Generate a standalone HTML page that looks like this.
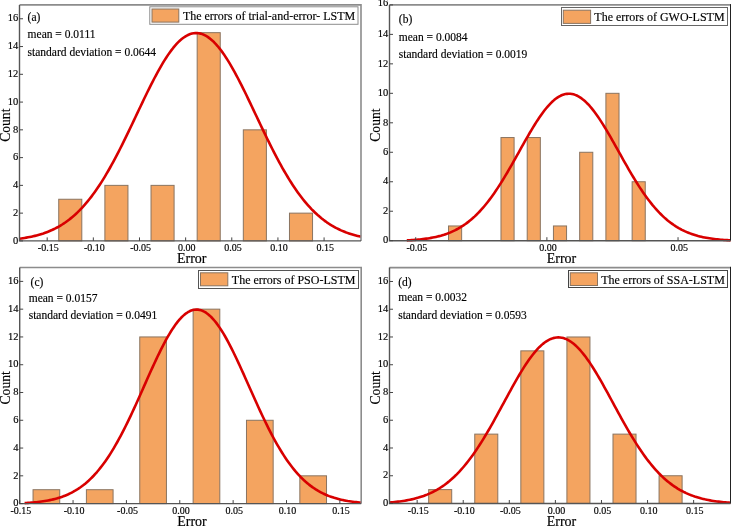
<!DOCTYPE html>
<html><head><meta charset="utf-8"><style>
html,body{margin:0;padding:0;background:#fff;width:731px;height:526px;overflow:hidden}
svg{display:block;will-change:transform}
text{font-family:"Liberation Serif",serif;fill:#000;stroke:#000;stroke-width:0.15px}
</style></head><body>
<svg width="731" height="526" viewBox="0 0 731 526">
<rect width="731" height="526" fill="#fff"/>
<g id="pa"><rect x="58.73" y="199.25" width="23.07" height="41.65" fill="#F4A460" stroke="#8a7460" stroke-width="1"/>
<rect x="104.88" y="185.37" width="23.07" height="55.53" fill="#F4A460" stroke="#8a7460" stroke-width="1"/>
<rect x="151.02" y="185.37" width="23.07" height="55.53" fill="#F4A460" stroke="#8a7460" stroke-width="1"/>
<rect x="197.17" y="32.66" width="23.07" height="208.24" fill="#F4A460" stroke="#8a7460" stroke-width="1"/>
<rect x="243.32" y="129.84" width="23.07" height="111.06" fill="#F4A460" stroke="#8a7460" stroke-width="1"/>
<rect x="289.47" y="213.14" width="23.07" height="27.76" fill="#F4A460" stroke="#8a7460" stroke-width="1"/>
<polyline points="19.5,238.68 21.21,238.45 22.92,238.2 24.62,237.94 26.33,237.65 28.04,237.34 29.74,237.01 31.45,236.66 33.16,236.28 34.87,235.87 36.58,235.44 38.28,234.98 39.99,234.48 41.7,233.96 43.41,233.4 45.11,232.8 46.82,232.17 48.53,231.5 50.23,230.78 51.94,230.03 53.65,229.22 55.36,228.38 57.07,227.48 58.77,226.54 60.48,225.54 62.19,224.49 63.9,223.38 65.6,222.22 67.31,220.99 69.02,219.71 70.72,218.36 72.43,216.95 74.14,215.48 75.85,213.94 77.55,212.33 79.26,210.65 80.97,208.89 82.68,207.07 84.39,205.17 86.09,203.2 87.8,201.16 89.51,199.04 91.22,196.84 92.92,194.57 94.63,192.22 96.34,189.8 98.04,187.3 99.75,184.73 101.46,182.08 103.17,179.35 104.88,176.56 106.58,173.7 108.29,170.76 110,167.76 111.71,164.7 113.41,161.57 115.12,158.38 116.83,155.13 118.54,151.83 120.24,148.48 121.95,145.09 123.66,141.65 125.37,138.17 127.07,134.66 128.78,131.12 130.49,127.55 132.19,123.96 133.9,120.36 135.61,116.76 137.32,113.14 139.03,109.54 140.73,105.94 142.44,102.35 144.15,98.79 145.86,95.26 147.56,91.76 149.27,88.3 150.98,84.89 152.68,81.54 154.39,78.24 156.1,75.02 157.81,71.87 159.52,68.8 161.22,65.82 162.93,62.93 164.64,60.14 166.34,57.46 168.05,54.9 169.76,52.45 171.47,50.12 173.17,47.93 174.88,45.87 176.59,43.95 178.3,42.17 180.01,40.54 181.71,39.07 183.42,37.75 185.13,36.59 186.84,35.59 188.54,34.75 190.25,34.08 191.96,33.58 193.66,33.25 195.37,33.08 197.08,33.09 198.79,33.27 200.5,33.61 202.2,34.13 203.91,34.81 205.62,35.66 207.33,36.67 209.03,37.85 210.74,39.18 212.45,40.67 214.16,42.31 215.86,44.1 217.57,46.03 219.28,48.1 220.98,50.31 222.69,52.64 224.4,55.1 226.11,57.68 227.81,60.36 229.52,63.16 231.23,66.05 232.94,69.04 234.64,72.12 236.35,75.28 238.06,78.51 239.77,81.81 241.47,85.17 243.18,88.58 244.89,92.04 246.6,95.54 248.3,99.08 250.01,102.64 251.72,106.23 253.43,109.83 255.14,113.44 256.84,117.05 258.55,120.66 260.26,124.26 261.96,127.84 263.67,131.4 265.38,134.94 267.09,138.45 268.79,141.93 270.5,145.36 272.21,148.76 273.92,152.1 275.63,155.4 277.33,158.64 279.04,161.82 280.75,164.95 282.45,168.01 284.16,171 285.87,173.93 287.58,176.79 289.29,179.58 290.99,182.29 292.7,184.94 294.41,187.5 296.11,190 297.82,192.42 299.53,194.76 301.24,197.02 302.94,199.21 304.65,201.33 306.36,203.37 308.07,205.33 309.77,207.22 311.48,209.04 313.19,210.78 314.9,212.46 316.6,214.06 318.31,215.6 320.02,217.07 321.73,218.48 323.44,219.82 325.14,221.09 326.85,222.31 328.56,223.47 330.26,224.57 331.97,225.62 333.68,226.61 335.39,227.56 337.09,228.45 338.8,229.29 340.51,230.09 342.22,230.84 343.93,231.55 345.63,232.22 347.34,232.85 349.05,233.44 350.75,234 352.46,234.53 354.17,235.02 355.88,235.48 357.59,235.91 359.29,236.31 361,236.69" fill="none" stroke="#D80000" stroke-width="2.6" stroke-linejoin="round"/>
<path d="M19.5,4.9H361V240.9" fill="none" stroke="#8c8c8c" stroke-width="1.6"/>
<path d="M19.5,4.9V240.9H361" fill="none" stroke="#555" stroke-width="1.4"/>
<path d="M19.5,240.9h3.5M19.5,213.14h3.5M19.5,185.37h3.5M19.5,157.61h3.5M19.5,129.84h3.5M19.5,102.08h3.5M19.5,74.31h3.5M19.5,46.55h3.5M19.5,18.78h3.5M47.19,240.9v-3.5M93.34,240.9v-3.5M139.49,240.9v-3.5M185.64,240.9v-3.5M231.78,240.9v-3.5M277.93,240.9v-3.5M324.08,240.9v-3.5" stroke="#444" stroke-width="1" fill="none"/>
<text x="18.3" y="243.6" text-anchor="end" font-size="10.5">0</text>
<text x="18.3" y="215.84" text-anchor="end" font-size="10.5">2</text>
<text x="18.3" y="188.07" text-anchor="end" font-size="10.5">4</text>
<text x="18.3" y="160.31" text-anchor="end" font-size="10.5">6</text>
<text x="18.3" y="132.54" text-anchor="end" font-size="10.5">8</text>
<text x="18.3" y="104.78" text-anchor="end" font-size="10.5">10</text>
<text x="18.3" y="77.01" text-anchor="end" font-size="10.5">12</text>
<text x="18.3" y="49.25" text-anchor="end" font-size="10.5">14</text>
<text x="18.3" y="21.48" text-anchor="end" font-size="10.5">16</text>
<text x="48.29" y="251.3" text-anchor="middle" font-size="10">-0.15</text>
<text x="94.44" y="251.3" text-anchor="middle" font-size="10">-0.10</text>
<text x="140.59" y="251.3" text-anchor="middle" font-size="10">-0.05</text>
<text x="186.74" y="251.3" text-anchor="middle" font-size="10">0.00</text>
<text x="232.88" y="251.3" text-anchor="middle" font-size="10">0.05</text>
<text x="279.03" y="251.3" text-anchor="middle" font-size="10">0.10</text>
<text x="325.18" y="251.3" text-anchor="middle" font-size="10">0.15</text>
<text x="191.75" y="262.8" text-anchor="middle" font-size="14">Error</text>
<text transform="translate(9.8,125.2) rotate(-90)" text-anchor="middle" font-size="13.6">Count</text>
<text x="27.6" y="20.9" font-size="11.5">(a)</text>
<text x="27.6" y="38.3" font-size="11.5">mean = 0.0111</text>
<text x="27.6" y="55.6" font-size="11.5">standard deviation = 0.0644</text>
<rect x="149.8" y="6.8" width="208.2" height="17.5" fill="#fff" stroke="#8c8c8c" stroke-width="1"/>
<rect x="152" y="9" width="26.8" height="13.1" fill="#F4A460" stroke="#8a7460" stroke-width="1"/>
<text x="182.9" y="19.6" font-size="12">The errors of trial-and-error- LSTM</text></g>
<g id="pb"><rect x="448.52" y="225.96" width="13.12" height="14.74" fill="#F4A460" stroke="#8a7460" stroke-width="1"/>
<rect x="500.98" y="137.54" width="13.12" height="103.16" fill="#F4A460" stroke="#8a7460" stroke-width="1"/>
<rect x="527.21" y="137.54" width="13.12" height="103.16" fill="#F4A460" stroke="#8a7460" stroke-width="1"/>
<rect x="553.44" y="225.96" width="13.12" height="14.74" fill="#F4A460" stroke="#8a7460" stroke-width="1"/>
<rect x="579.67" y="152.27" width="13.12" height="88.43" fill="#F4A460" stroke="#8a7460" stroke-width="1"/>
<rect x="605.9" y="93.32" width="13.12" height="147.38" fill="#F4A460" stroke="#8a7460" stroke-width="1"/>
<rect x="632.13" y="181.75" width="13.12" height="58.95" fill="#F4A460" stroke="#8a7460" stroke-width="1"/>
<polyline points="406.81,240.36 408.43,240.27 410.05,240.18 411.67,240.08 413.29,239.98 414.9,239.86 416.52,239.73 418.14,239.58 419.76,239.43 421.38,239.26 423,239.07 424.62,238.87 426.23,238.65 427.85,238.42 429.47,238.16 431.09,237.88 432.71,237.58 434.33,237.26 435.94,236.91 437.56,236.53 439.18,236.12 440.8,235.69 442.42,235.22 444.04,234.72 445.65,234.18 447.27,233.6 448.89,232.99 450.51,232.34 452.13,231.64 453.75,230.9 455.37,230.11 456.98,229.27 458.6,228.38 460.22,227.44 461.84,226.44 463.46,225.39 465.08,224.28 466.69,223.12 468.31,221.89 469.93,220.6 471.55,219.24 473.17,217.82 474.79,216.34 476.41,214.79 478.02,213.17 479.64,211.48 481.26,209.72 482.88,207.89 484.5,206 486.12,204.03 487.73,202 489.35,199.89 490.97,197.72 492.59,195.49 494.21,193.19 495.83,190.82 497.44,188.4 499.06,185.91 500.68,183.38 502.3,180.78 503.92,178.14 505.54,175.45 507.16,172.72 508.77,169.95 510.39,167.14 512.01,164.31 513.63,161.45 515.25,158.57 516.87,155.68 518.48,152.78 520.1,149.88 521.72,146.98 523.34,144.09 524.96,141.22 526.58,138.37 528.2,135.55 529.81,132.77 531.43,130.04 533.05,127.35 534.67,124.72 536.29,122.16 537.91,119.67 539.52,117.25 541.14,114.92 542.76,112.69 544.38,110.55 546,108.51 547.62,106.59 549.23,104.78 550.85,103.1 552.47,101.54 554.09,100.11 555.71,98.81 557.33,97.66 558.95,96.65 560.56,95.78 562.18,95.06 563.8,94.5 565.42,94.09 567.04,93.83 568.66,93.73 570.27,93.78 571.89,93.99 573.51,94.35 575.13,94.87 576.75,95.53 578.37,96.35 579.99,97.31 581.6,98.42 583.22,99.67 584.84,101.06 586.46,102.58 588.08,104.22 589.7,105.99 591.31,107.88 592.93,109.88 594.55,111.98 596.17,114.19 597.79,116.49 599.41,118.87 601.02,121.34 602.64,123.88 604.26,126.49 605.88,129.16 607.5,131.88 609.12,134.65 610.74,137.45 612.35,140.29 613.97,143.16 615.59,146.04 617.21,148.94 618.83,151.84 620.45,154.74 622.06,157.64 623.68,160.52 625.3,163.39 626.92,166.23 628.54,169.04 630.16,171.83 631.78,174.57 633.39,177.27 635.01,179.93 636.63,182.54 638.25,185.1 639.87,187.6 641.49,190.04 643.1,192.43 644.72,194.75 646.34,197.01 647.96,199.2 649.58,201.32 651.2,203.38 652.81,205.37 654.43,207.28 656.05,209.13 657.67,210.91 659.29,212.63 660.91,214.27 662.53,215.84 664.14,217.35 665.76,218.79 667.38,220.17 669,221.48 670.62,222.72 672.24,223.91 673.85,225.04 675.47,226.11 677.09,227.12 678.71,228.08 680.33,228.99 681.95,229.84 683.57,230.64 685.18,231.4 686.8,232.11 688.42,232.78 690.04,233.41 691.66,234 693.28,234.55 694.89,235.06 696.51,235.54 698.13,235.99 699.75,236.4 701.37,236.79 702.99,237.15 704.6,237.48 706.22,237.79 707.84,238.07 709.46,238.34 711.08,238.58 712.7,238.8 714.32,239.01 715.93,239.2 717.55,239.37 719.17,239.53 720.79,239.68 722.41,239.82 724.03,239.94 725.64,240.05 727.26,240.15 728.88,240.25 730.5,240.33" fill="none" stroke="#D80000" stroke-width="2.6" stroke-linejoin="round"/>
<path d="M389.5,4.9H730.5" fill="none" stroke="#8c8c8c" stroke-width="1.6"/>
<path d="M730.5,4.1V240.7" fill="none" stroke="#222" stroke-width="1"/>
<path d="M389.5,4.9V240.7H730.5" fill="none" stroke="#555" stroke-width="1.4"/>
<path d="M389.5,240.7h3.5M389.5,211.22h3.5M389.5,181.75h3.5M389.5,152.27h3.5M389.5,122.8h3.5M389.5,93.32h3.5M389.5,63.85h3.5M389.5,34.38h3.5M389.5,4.9h3.5M415.73,240.7v-3.5M546.88,240.7v-3.5M678.04,240.7v-3.5" stroke="#444" stroke-width="1" fill="none"/>
<text x="388.3" y="243.4" text-anchor="end" font-size="10.5">0</text>
<text x="388.3" y="213.92" text-anchor="end" font-size="10.5">2</text>
<text x="388.3" y="184.45" text-anchor="end" font-size="10.5">4</text>
<text x="388.3" y="154.97" text-anchor="end" font-size="10.5">6</text>
<text x="388.3" y="125.5" text-anchor="end" font-size="10.5">8</text>
<text x="388.3" y="96.02" text-anchor="end" font-size="10.5">10</text>
<text x="388.3" y="66.55" text-anchor="end" font-size="10.5">12</text>
<text x="388.3" y="37.08" text-anchor="end" font-size="10.5">14</text>
<text x="388.3" y="6.4" text-anchor="end" font-size="10.5">16</text>
<text x="416.83" y="251.1" text-anchor="middle" font-size="10">-0.05</text>
<text x="547.98" y="251.1" text-anchor="middle" font-size="10">0.00</text>
<text x="679.14" y="251.1" text-anchor="middle" font-size="10">0.05</text>
<text x="561.5" y="262.6" text-anchor="middle" font-size="14">Error</text>
<text transform="translate(379.8,125.1) rotate(-90)" text-anchor="middle" font-size="13.6">Count</text>
<text x="398.8" y="23" font-size="11.5">(b)</text>
<text x="398.8" y="40.8" font-size="11.5">mean = 0.0084</text>
<text x="398.8" y="57.8" font-size="11.5">standard deviation = 0.0019</text>
<rect x="561.5" y="7.5" width="166" height="18" fill="#fff" stroke="#666" stroke-width="1"/>
<rect x="563.3" y="10.2" width="27.3" height="13.2" fill="#F4A460" stroke="#8a7460" stroke-width="1"/>
<text x="594.3" y="20.7" font-size="12">The errors of GWO-LSTM</text></g>
<g id="pc"><rect x="33.04" y="489.71" width="26.68" height="13.89" fill="#F4A460" stroke="#8a7460" stroke-width="1"/>
<rect x="86.4" y="489.71" width="26.68" height="13.89" fill="#F4A460" stroke="#8a7460" stroke-width="1"/>
<rect x="139.76" y="336.94" width="26.68" height="166.66" fill="#F4A460" stroke="#8a7460" stroke-width="1"/>
<rect x="193.12" y="309.16" width="26.68" height="194.44" fill="#F4A460" stroke="#8a7460" stroke-width="1"/>
<rect x="246.48" y="420.27" width="26.68" height="83.33" fill="#F4A460" stroke="#8a7460" stroke-width="1"/>
<rect x="299.84" y="475.82" width="26.68" height="27.78" fill="#F4A460" stroke="#8a7460" stroke-width="1"/>
<polyline points="24.61,503.11 26.29,503.01 27.97,502.9 29.66,502.78 31.34,502.65 33.02,502.51 34.71,502.35 36.39,502.18 38.07,501.99 39.76,501.79 41.44,501.57 43.12,501.32 44.8,501.06 46.49,500.78 48.17,500.47 49.85,500.13 51.54,499.77 53.22,499.38 54.9,498.96 56.59,498.51 58.27,498.02 59.95,497.49 61.63,496.93 63.32,496.32 65,495.67 66.68,494.98 68.37,494.24 70.05,493.44 71.73,492.6 73.41,491.7 75.1,490.74 76.78,489.72 78.46,488.64 80.15,487.5 81.83,486.29 83.51,485.01 85.2,483.66 86.88,482.23 88.56,480.73 90.24,479.15 91.93,477.49 93.61,475.75 95.29,473.93 96.98,472.02 98.66,470.02 100.34,467.94 102.02,465.77 103.71,463.51 105.39,461.16 107.07,458.73 108.76,456.2 110.44,453.58 112.12,450.88 113.81,448.09 115.49,445.21 117.17,442.25 118.85,439.2 120.54,436.08 122.22,432.87 123.9,429.6 125.59,426.25 127.27,422.84 128.95,419.36 130.64,415.83 132.32,412.24 134,408.61 135.68,404.93 137.37,401.22 139.05,397.48 140.73,393.71 142.42,389.93 144.1,386.15 145.78,382.36 147.46,378.58 149.15,374.82 150.83,371.08 152.51,367.38 154.2,363.71 155.88,360.1 157.56,356.54 159.25,353.06 160.93,349.65 162.61,346.32 164.29,343.09 165.98,339.97 167.66,336.95 169.34,334.06 171.03,331.29 172.71,328.66 174.39,326.17 176.07,323.83 177.76,321.65 179.44,319.64 181.12,317.79 182.81,316.12 184.49,314.63 186.17,313.33 187.86,312.21 189.54,311.29 191.22,310.56 192.9,310.03 194.59,309.7 196.27,309.57 197.95,309.64 199.64,309.91 201.32,310.37 203,311.04 204.69,311.9 206.37,312.96 208.05,314.21 209.73,315.64 211.42,317.25 213.1,319.04 214.78,321.01 216.47,323.14 218.15,325.42 219.83,327.87 221.51,330.45 223.2,333.18 224.88,336.03 226.56,339.01 228.25,342.11 229.93,345.3 231.61,348.6 233.3,351.98 234.98,355.45 236.66,358.98 238.34,362.58 240.03,366.23 241.71,369.92 243.39,373.65 245.08,377.41 246.76,381.18 248.44,384.97 250.12,388.75 251.81,392.54 253.49,396.3 255.17,400.05 256.86,403.77 258.54,407.46 260.22,411.11 261.91,414.71 263.59,418.26 265.27,421.76 266.95,425.19 268.64,428.56 270.32,431.86 272,435.09 273.69,438.24 275.37,441.31 277.05,444.29 278.74,447.2 280.42,450.02 282.1,452.75 283.78,455.39 285.47,457.95 287.15,460.41 288.83,462.79 290.52,465.08 292.2,467.27 293.88,469.38 295.56,471.41 297.25,473.34 298.93,475.19 300.61,476.96 302.3,478.64 303.98,480.25 305.66,481.77 307.35,483.22 309.03,484.6 310.71,485.9 312.39,487.13 314.08,488.29 315.76,489.39 317.44,490.43 319.13,491.41 320.81,492.32 322.49,493.19 324.17,493.99 325.86,494.75 327.54,495.46 329.22,496.12 330.91,496.74 332.59,497.32 334.27,497.86 335.96,498.36 337.64,498.82 339.32,499.25 341,499.65 342.69,500.02 344.37,500.37 346.05,500.68 347.74,500.98 349.42,501.24 351.1,501.49 352.79,501.72 354.47,501.93 356.15,502.12 357.83,502.3 359.52,502.46 361.2,502.61" fill="none" stroke="#D80000" stroke-width="2.6" stroke-linejoin="round"/>
<path d="M19.7,267.5H361.2V503.6" fill="none" stroke="#8c8c8c" stroke-width="1.6"/>
<path d="M19.7,267.5V503.6H361.2" fill="none" stroke="#555" stroke-width="1.4"/>
<path d="M19.7,503.6h3.5M19.7,475.82h3.5M19.7,448.05h3.5M19.7,420.27h3.5M19.7,392.49h3.5M19.7,364.72h3.5M19.7,336.94h3.5M19.7,309.16h3.5M19.7,281.39h3.5M19.7,503.6v-3.5M73.06,503.6v-3.5M126.42,503.6v-3.5M179.78,503.6v-3.5M233.14,503.6v-3.5M286.5,503.6v-3.5M339.86,503.6v-3.5" stroke="#444" stroke-width="1" fill="none"/>
<text x="18.5" y="506.3" text-anchor="end" font-size="10.5">0</text>
<text x="18.5" y="478.52" text-anchor="end" font-size="10.5">2</text>
<text x="18.5" y="450.75" text-anchor="end" font-size="10.5">4</text>
<text x="18.5" y="422.97" text-anchor="end" font-size="10.5">6</text>
<text x="18.5" y="395.19" text-anchor="end" font-size="10.5">8</text>
<text x="18.5" y="367.42" text-anchor="end" font-size="10.5">10</text>
<text x="18.5" y="339.64" text-anchor="end" font-size="10.5">12</text>
<text x="18.5" y="311.86" text-anchor="end" font-size="10.5">14</text>
<text x="18.5" y="284.09" text-anchor="end" font-size="10.5">16</text>
<text x="20.8" y="514" text-anchor="middle" font-size="10">-0.15</text>
<text x="74.16" y="514" text-anchor="middle" font-size="10">-0.10</text>
<text x="127.52" y="514" text-anchor="middle" font-size="10">-0.05</text>
<text x="180.88" y="514" text-anchor="middle" font-size="10">0.00</text>
<text x="234.24" y="514" text-anchor="middle" font-size="10">0.05</text>
<text x="287.6" y="514" text-anchor="middle" font-size="10">0.10</text>
<text x="340.96" y="514" text-anchor="middle" font-size="10">0.15</text>
<text x="191.95" y="526.3" text-anchor="middle" font-size="14">Error</text>
<text transform="translate(10,387.85) rotate(-90)" text-anchor="middle" font-size="13.6">Count</text>
<text x="30.6" y="286" font-size="11.5">(c)</text>
<text x="28.7" y="301.5" font-size="11.5">mean = 0.0157</text>
<text x="28.7" y="318.9" font-size="11.5">standard deviation = 0.0491</text>
<rect x="198.5" y="270.5" width="160" height="18" fill="#fff" stroke="#555" stroke-width="1"/>
<rect x="200.5" y="272.8" width="27.3" height="13" fill="#F4A460" stroke="#8a7460" stroke-width="1"/>
<text x="231.8" y="283.9" font-size="12">The errors of PSO-LSTM</text></g>
<g id="pd"><rect x="428.67" y="489.62" width="23.04" height="13.88" fill="#F4A460" stroke="#8a7460" stroke-width="1"/>
<rect x="474.75" y="434.12" width="23.04" height="69.38" fill="#F4A460" stroke="#8a7460" stroke-width="1"/>
<rect x="520.83" y="350.86" width="23.04" height="152.64" fill="#F4A460" stroke="#8a7460" stroke-width="1"/>
<rect x="566.91" y="336.98" width="23.04" height="166.52" fill="#F4A460" stroke="#8a7460" stroke-width="1"/>
<rect x="612.99" y="434.12" width="23.04" height="69.38" fill="#F4A460" stroke="#8a7460" stroke-width="1"/>
<rect x="659.07" y="475.75" width="23.04" height="27.75" fill="#F4A460" stroke="#8a7460" stroke-width="1"/>
<polyline points="389.5,502.49 391.2,502.35 392.91,502.19 394.62,502.03 396.32,501.84 398.03,501.65 399.73,501.43 401.44,501.2 403.14,500.95 404.85,500.67 406.55,500.38 408.25,500.06 409.96,499.72 411.66,499.36 413.37,498.96 415.07,498.54 416.78,498.08 418.49,497.6 420.19,497.08 421.9,496.52 423.6,495.93 425.31,495.29 427.01,494.62 428.72,493.9 430.42,493.14 432.12,492.33 433.83,491.47 435.53,490.56 437.24,489.6 438.94,488.59 440.65,487.51 442.36,486.38 444.06,485.19 445.76,483.94 447.47,482.63 449.18,481.25 450.88,479.81 452.58,478.29 454.29,476.71 456,475.06 457.7,473.34 459.4,471.55 461.11,469.69 462.81,467.76 464.52,465.75 466.23,463.67 467.93,461.52 469.63,459.29 471.34,457 473.05,454.64 474.75,452.2 476.45,449.7 478.16,447.14 479.87,444.51 481.57,441.82 483.27,439.07 484.98,436.26 486.69,433.4 488.39,430.5 490.1,427.54 491.8,424.55 493.5,421.52 495.21,418.45 496.91,415.36 498.62,412.24 500.32,409.11 502.03,405.97 503.74,402.82 505.44,399.67 507.14,396.52 508.85,393.39 510.56,390.28 512.26,387.2 513.97,384.14 515.67,381.13 517.38,378.17 519.08,375.25 520.78,372.4 522.49,369.62 524.19,366.91 525.9,364.28 527.61,361.74 529.31,359.29 531.01,356.95 532.72,354.71 534.42,352.59 536.13,350.58 537.84,348.7 539.54,346.95 541.25,345.33 542.95,343.86 544.65,342.52 546.36,341.34 548.07,340.3 549.77,339.42 551.48,338.69 553.18,338.12 554.88,337.71 556.59,337.47 558.3,337.38 560,337.46 561.71,337.7 563.41,338.1 565.12,338.66 566.82,339.37 568.52,340.25 570.23,341.28 571.93,342.45 573.64,343.78 575.35,345.25 577.05,346.86 578.75,348.6 580.46,350.48 582.16,352.48 583.87,354.59 585.58,356.82 587.28,359.16 588.99,361.6 590.69,364.14 592.39,366.76 594.1,369.47 595.81,372.25 597.51,375.1 599.22,378.01 600.92,380.97 602.62,383.98 604.33,387.03 606.03,390.11 607.74,393.22 609.44,396.35 611.15,399.5 612.86,402.65 614.56,405.8 616.26,408.94 617.97,412.07 619.67,415.19 621.38,418.28 623.09,421.35 624.79,424.38 626.5,427.38 628.2,430.34 629.9,433.25 631.61,436.11 633.32,438.92 635.02,441.67 636.73,444.36 638.43,447 640.13,449.57 641.84,452.07 643.54,454.51 645.25,456.87 646.95,459.17 648.66,461.4 650.37,463.55 652.07,465.64 653.78,467.65 655.48,469.59 657.18,471.45 658.89,473.25 660.6,474.97 662.3,476.63 664,478.21 665.71,479.73 667.41,481.17 669.12,482.56 670.83,483.87 672.53,485.13 674.24,486.32 675.94,487.45 677.64,488.53 679.35,489.55 681.05,490.51 682.76,491.42 684.46,492.29 686.17,493.1 687.88,493.86 689.58,494.58 691.28,495.26 692.99,495.89 694.69,496.49 696.4,497.05 698.11,497.57 699.81,498.06 701.51,498.52 703.22,498.94 704.92,499.34 706.63,499.7 708.34,500.05 710.04,500.36 711.75,500.66 713.45,500.93 715.15,501.19 716.86,501.42 718.57,501.63 720.27,501.83 721.98,502.02 723.68,502.19 725.38,502.34 727.09,502.48 728.8,502.61 730.5,502.73" fill="none" stroke="#D80000" stroke-width="2.6" stroke-linejoin="round"/>
<path d="M389.5,267.6H730.5" fill="none" stroke="#8c8c8c" stroke-width="1.6"/>
<path d="M730.5,266.8V503.5" fill="none" stroke="#222" stroke-width="1"/>
<path d="M389.5,267.6V503.5H730.5" fill="none" stroke="#555" stroke-width="1.4"/>
<path d="M389.5,503.5h3.5M389.5,475.75h3.5M389.5,447.99h3.5M389.5,420.24h3.5M389.5,392.49h3.5M389.5,364.74h3.5M389.5,336.98h3.5M389.5,309.23h3.5M389.5,281.48h3.5M417.15,503.5v-3.5M463.23,503.5v-3.5M509.31,503.5v-3.5M555.39,503.5v-3.5M601.47,503.5v-3.5M647.55,503.5v-3.5M693.64,503.5v-3.5" stroke="#444" stroke-width="1" fill="none"/>
<text x="388.3" y="506.2" text-anchor="end" font-size="10.5">0</text>
<text x="388.3" y="478.45" text-anchor="end" font-size="10.5">2</text>
<text x="388.3" y="450.69" text-anchor="end" font-size="10.5">4</text>
<text x="388.3" y="422.94" text-anchor="end" font-size="10.5">6</text>
<text x="388.3" y="395.19" text-anchor="end" font-size="10.5">8</text>
<text x="388.3" y="367.44" text-anchor="end" font-size="10.5">10</text>
<text x="388.3" y="339.68" text-anchor="end" font-size="10.5">12</text>
<text x="388.3" y="311.93" text-anchor="end" font-size="10.5">14</text>
<text x="388.3" y="284.18" text-anchor="end" font-size="10.5">16</text>
<text x="418.25" y="513.9" text-anchor="middle" font-size="10">-0.15</text>
<text x="464.33" y="513.9" text-anchor="middle" font-size="10">-0.10</text>
<text x="510.41" y="513.9" text-anchor="middle" font-size="10">-0.05</text>
<text x="556.49" y="513.9" text-anchor="middle" font-size="10">0.00</text>
<text x="602.57" y="513.9" text-anchor="middle" font-size="10">0.05</text>
<text x="648.65" y="513.9" text-anchor="middle" font-size="10">0.10</text>
<text x="694.74" y="513.9" text-anchor="middle" font-size="10">0.15</text>
<text x="561.5" y="526.2" text-anchor="middle" font-size="14">Error</text>
<text transform="translate(379.8,387.85) rotate(-90)" text-anchor="middle" font-size="13.6">Count</text>
<text x="398.2" y="285.9" font-size="11.5">(d)</text>
<text x="398.2" y="301" font-size="11.5">mean = 0.0032</text>
<text x="398.2" y="318.5" font-size="11.5">standard deviation = 0.0593</text>
<rect x="568.5" y="270.5" width="159" height="17" fill="#fff" stroke="#444" stroke-width="1"/>
<rect x="570.3" y="272.8" width="27.2" height="12.7" fill="#F4A460" stroke="#8a7460" stroke-width="1"/>
<text x="601.2" y="283.5" font-size="12">The errors of SSA-LSTM</text></g>
</svg></body></html>
